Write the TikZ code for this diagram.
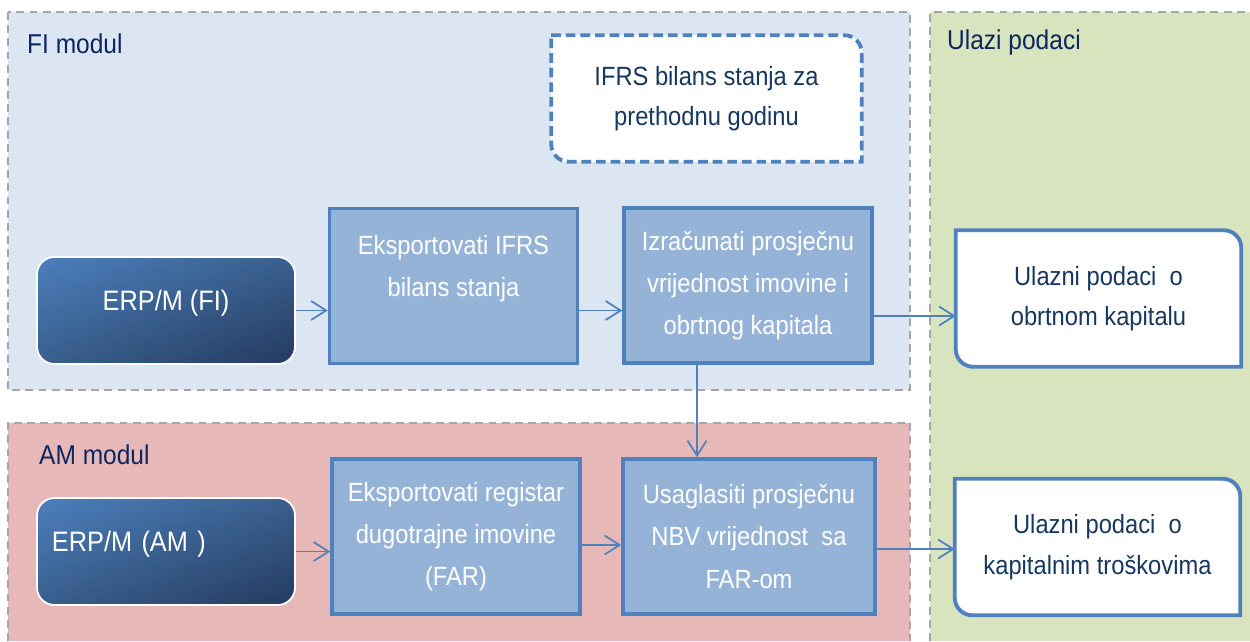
\documentclass[tikz,border=0pt]{standalone}
\usepackage{fontspec}
\setmainfont{Liberation Sans}[FakeStretch=0.9]
\usetikzlibrary{calc,backgrounds,arrows.meta,shadings}
\pgfdeclarelayer{moduli}
\pgfsetlayers{moduli,background,main}
\definecolor{fiboja}{HTML}{DCE6F2}
\definecolor{amboja}{HTML}{E6B9B8}
\definecolor{ulazboja}{HTML}{D7E4BD}
\definecolor{sivaok}{HTML}{A6A6A6}
\definecolor{plava}{HTML}{4F81BD}
\definecolor{svijetloplava}{HTML}{95B3D7}
\definecolor{tamnoplava}{HTML}{17375E}
\definecolor{naslovboja}{HTML}{0C2660}
\definecolor{erpsvijetla}{HTML}{4C7FBC}
\definecolor{erpsrednja}{HTML}{3A5F8E}
\definecolor{erptamna}{HTML}{233A5E}
% okvir sa zaobljenim dijagonalnim uglovima
\newcommand{\dijagonalno}[2]{%
  \begin{pgfonlayer}{background}
    \draw[#2] (#1.north west) -- ($(#1.north east)+(-3.5mm,0)$)
    arc[start angle=90, end angle=0, radius=3.5mm] -- (#1.south east) --
    ($(#1.south west)+(3.5mm,0)$) arc[start angle=270, end angle=180, radius=3.5mm] -- cycle;
  \end{pgfonlayer}}

\begin{document}
\begin{tikzpicture}[x=0.2mm, y=-0.2mm]
    % Stilovi
    \tikzset{modul/.style={draw=sivaok, line width=1.1pt, dash pattern=on 4.5pt off 3pt}}%
    \tikzset{naslov/.style={anchor=west, text=naslovboja, font=\fontsize{15.5}{18}\selectfont}}%
    \tikzset{erp/.style={draw=white, line width=1pt, rounded corners=3.5mm,
        upper left=erpsvijetla, upper right=erpsrednja, lower left=erpsrednja,
        lower right=erptamna, text=white, font=\fontsize{16}{19}\selectfont,
        text depth=4mm, minimum width=51.6mm, minimum height=21.4mm}}%
    \tikzset{korak/.style={draw=plava, fill=svijetloplava, line width=2pt, text=white,
        align=center, font=\fontsize{15}{24}\selectfont,
        minimum width=49.6mm, minimum height=31mm}}%
    \tikzset{ulaz/.style={outer sep=1pt, text=tamnoplava, align=center,
        font=\fontsize{15}{23}\selectfont, minimum width=56.4mm, minimum height=26.6mm}}%
    \tikzset{strelica/.style={draw=plava, line width=1pt, -{Straight Barb[length=3mm, width=3.8mm]}}}%

    \useasboundingbox (0,0) rectangle (1250,641);

    % Moduli
    \begin{pgfonlayer}{moduli}
        \fill[fiboja] (8,12) rectangle (910,390);
        \draw[modul] (8,12) rectangle (910,390);
        \fill[amboja] (8,423) rectangle (910,641);
        \draw[modul] (8,641) -- (8,423) -- (910,423) -- (910,641);
        \fill[ulazboja] (930,12) rectangle (1250,641);
        \draw[modul] (930,641) -- (930,12) -- (1250,12);
    \end{pgfonlayer}
    \node[naslov] (fimodul) at (21,44) {FI modul};
    \node[naslov] (ammodul) at (33,455) {AM modul};
    \node[naslov] (ulazipodaci) at (941,42) {Ulazi podaci};

    % FI modul
    \node[ulaz, minimum width=61.4mm, minimum height=24.6mm] (ifrsprethodna) at (706.5,98.5)
        {IFRS bilans stanja za\\prethodnu godinu};
    \dijagonalno{ifrsprethodna}{draw=plava, fill=white, line width=2.2pt, dash pattern=on 5.5pt off 2.8pt}
    \node[erp] (erpfi) at (166,310.5) {ERP/M (FI)};
    \node[korak, text depth=7.9mm] (eksifrs) at (453.5,286) {Eksportovati IFRS\\bilans stanja};
    \node[korak] (izracun) at (748,285.5) {Izračunati prosječnu\\vrijednost imovine i\\obrtnog kapitala};

    % AM modul
    \node[erp, align=left, text width=45.6mm, inner xsep=3mm] (erpam) at (166,551.5) {ERP/M (AM )};
    \node[korak] (eksfar) at (456,536.5) {Eksportovati registar\\dugotrajne imovine\\(FAR)};
    \node[korak, minimum width=50.4mm] (usagl) at (749,536.5) {Usaglasiti prosječnu\\NBV vrijednost\ \ sa\\FAR-om};

    % Ulazi podaci
    \node[ulaz] (ulazobrt) at (1098.5,298.5) {Ulazni podaci\ \ o\\obrtnom kapitalu};
    \dijagonalno{ulazobrt}{draw=plava, fill=white, line width=2.2pt}
    \node[ulaz] (ulazkap) at (1097.5,547) {Ulazni podaci\ \ o\\kapitalnim troškovima};
    \dijagonalno{ulazkap}{draw=plava, fill=white, line width=2.2pt}

    % Strelice
    \draw[strelica] (erpfi.east) -- (erpfi.east -| eksifrs.west);
    \draw[strelica] (erpfi.east -| eksifrs.east) -- (erpfi.east -| izracun.west);
    \draw[strelica] ([yshift=-6.1mm]izracun.east) -- ([yshift=-6.1mm]izracun.east -| ulazobrt.west);
    \draw[strelica] ([xshift=-10.2mm]izracun.south) -- ([xshift=-10.2mm]izracun.south |- usagl.north);
    \draw[strelica] (erpam.east) -- (erpam.east -| eksfar.west);
    \draw[strelica] ([yshift=-1.7mm]eksfar.east) -- ([yshift=-1.7mm]eksfar.east -| usagl.west);
    \draw[strelica] ([yshift=-2.5mm]usagl.east) -- ([yshift=-2.5mm]usagl.east -| ulazkap.west);
\end{tikzpicture}
\end{document}
